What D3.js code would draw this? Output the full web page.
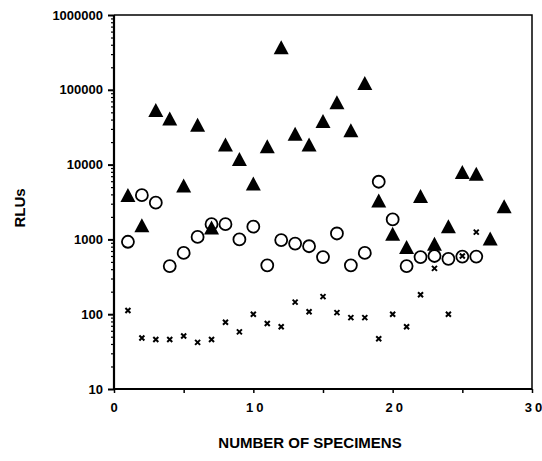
<!doctype html>
<html>
<head>
<title>RLUs vs number of specimens</title>
<script src="https://d3js.org/d3.v7.min.js"></script>
<style>
  body { margin: 0; background: #fff; }
  text { font-family: "Liberation Sans", Arial, sans-serif; font-weight: bold; fill: #000; }
</style>
</head>
<body>
<svg width="542" height="461"></svg>
<script>
// specimen numbers for each series
var triX = d3.range(1, 29);
var triY = [3800, 1500, 52000, 40000, 5100, 33000, 1400, 18000, 11500, 5400,
            17000, 360000, 25000, 18000, 37000, 66000, 28000, 120000, 3200, 1150,
            770, 3700, 850, 1450, 7700, 7300, 1000, 2700];

var circX = d3.range(1, 27);
var circY = [930, 3900, 3100, 440, 660, 1080, 1600, 1600, 1000, 1480,
             450, 980, 880, 810, 580, 1200, 450, 660, 5900, 1850,
             440, 580, 600, 550, 590, 590];

var crossX = d3.range(1, 27);
var crossY = [112, 48, 46, 46, 51, 42, 46, 78, 58, 100,
              75, 68, 145, 108, 172, 105, 90, 90, 47, 100,
              68, 182, 410, 100, 600, 1250];

var xTicks = [0, 10, 20, 30];
var yTicks = [10, 100, 1000, 10000, 100000, 1000000];

var svg = d3.select("svg");
var pL = 114, pR = 532, pT = 15, pB = 389;

var x = d3.scaleLinear().domain([0, 30]).range([pL, pR]);
var y = d3.scaleLog().domain([10, 1000000]).range([pB, pT]);

// frame top and right
svg.append("path")
    .attr("d", "M" + pL + "," + pT + "H" + pR + "V" + pB)
    .attr("fill", "none").attr("stroke", "#000").attr("stroke-width", 1.5);

// y axis: minor ticks then major ticks
var minor = [];
yTicks.slice(0, -1).forEach(function (d) {
    for (var k = 2; k < 10; k++) minor.push(d * k);
});
svg.append("g")
    .attr("transform", "translate(" + pL + ",0)")
    .call(d3.axisLeft(y).tickValues(minor).tickSize(3).tickFormat(""))
    .call(function (g) { g.select(".domain").remove(); })
    .selectAll("line").attr("stroke-width", 1.2);

var yAxis = svg.append("g")
    .attr("transform", "translate(" + pL + ",0)")
    .call(d3.axisLeft(y).tickValues(yTicks).tickSize(6).tickPadding(5)
        .tickFormat(d3.format("d")));
yAxis.select(".domain").attr("stroke-width", 2.2).attr("d", "M0," + pB + "V" + pT);
yAxis.selectAll("line").attr("stroke-width", 2);
yAxis.selectAll("text").attr("font-size", 13).attr("font-family", "Liberation Sans, Arial").attr("font-weight", "bold");

// x axis
var xAxis = svg.append("g")
    .attr("transform", "translate(0," + pB + ")")
    .call(d3.axisBottom(x).tickValues(d3.range(0, 31, 5)).tickSize(4).tickFormat(""));
xAxis.select(".domain").attr("stroke-width", 2.2).attr("d", "M" + pL + ",0H" + pR);
xAxis.selectAll("line").attr("stroke-width", 1.5);

// x tick labels, digits spread apart like the original
var xl = svg.append("g").selectAll("text")
    .data(xTicks)
    .enter().append("text")
    .attr("x", function (d) { return x(d) + (d ? 1.5 : 0); })
    .attr("y", 412)
    .attr("text-anchor", "middle")
    .attr("font-size", 13);
xl.selectAll("tspan")
    .data(function (d) { return String(d).split(""); })
    .enter().append("tspan")
    .attr("dx", function (c, i) { return i ? 3 : 0; })
    .text(function (c) { return c; });

svg.append("text")
    .attr("x", 310).attr("y", 448)
    .attr("text-anchor", "middle")
    .attr("font-size", 15)
    .text("NUMBER OF SPECIMENS");

svg.append("text")
    .attr("transform", "translate(25,208) rotate(-90)")
    .attr("text-anchor", "middle")
    .attr("font-size", 15)
    .text("RLUs");

// crosses
svg.append("g").selectAll("path")
    .data(crossX)
    .enter().append("path")
    .attr("transform", function (d, i) { return "translate(" + x(d) + "," + y(crossY[i]) + ")"; })
    .attr("d", "M-2.5,-2.5L2.5,2.5M-2.5,2.5L2.5,-2.5")
    .attr("stroke", "#000").attr("stroke-width", 2);

// open circles
svg.append("g").selectAll("circle")
    .data(circX)
    .enter().append("circle")
    .attr("cx", function (d) { return x(d); })
    .attr("cy", function (d, i) { return y(circY[i]); })
    .attr("r", 6)
    .attr("fill", "none").attr("stroke", "#000").attr("stroke-width", 1.8);

// filled triangles
svg.append("g").selectAll("path")
    .data(triX)
    .enter().append("path")
    .attr("transform", function (d, i) { return "translate(" + x(d) + "," + y(triY[i]) + ")"; })
    .attr("d", "M0,-8L7.5,6L-7.5,6Z")
    .attr("fill", "#000");
</script>
</body>
</html>
